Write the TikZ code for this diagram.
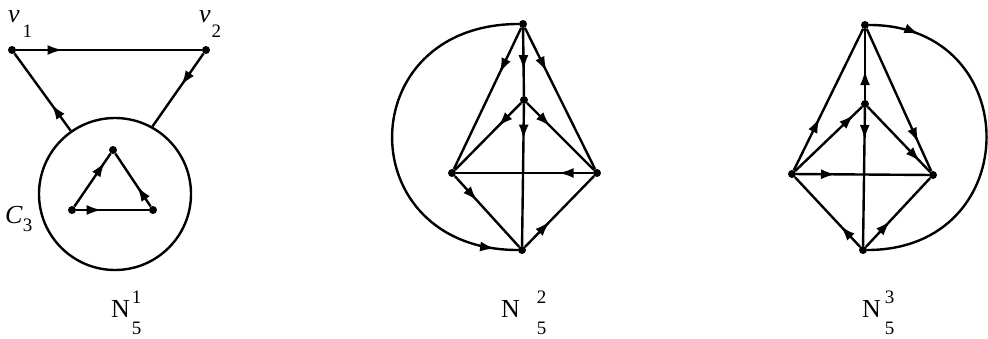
\documentclass[tikz,border=0pt]{standalone}
\usepackage{fontspec}
\setmainfont{Liberation Serif}
\usetikzlibrary{arrows.meta,decorations.markings}
\newcommand{\bigfont}{\fontsize{26}{26}\selectfont}
\newcommand{\smallfont}{\fontsize{19}{19}\selectfont}
\tikzset{
  dot/.style={circle,fill=black,inner sep=0pt,minimum size=8pt},
  edge/.style={line width=2.4pt},
  ar/.style={edge,postaction={decorate},decoration={markings,
      mark=at position #1 with {\arrow{Latex[length=15pt,width=10pt]}}}},
  lbl/.style={anchor=base west,inner sep=0pt}
}
\begin{document}
\begin{tikzpicture}[x=1pt,y=-1pt]
\useasboundingbox (0,0) rectangle (988,338);
% ---------- Figure 1 ----------
\node[dot] (v1) at (12,50) {};
\node[dot] (v2) at (206,50) {};
\node[draw,circle,line width=2.4pt,minimum size=152pt,inner sep=0pt] (C) at (115,194) {};
\node[dot] (ta) at (113,150) {};
\node[dot] (tb) at (72,210) {};
\node[dot] (tc) at (153,210) {};
\draw[ar=0.25] (v1) -- (v2);
\draw[ar=0.34] (C.125) -- (v1);
\draw[ar=0.44] (v2) -- (C.61);
\draw[ar=0.84] (tb) -- (ta);
\draw[ar=0.38] (tc) -- (ta);
\draw[ar=0.35] (tb) -- (tc);
\node[lbl,font=\bigfont] (lv1) at (8,22) {\textit{v}\kern3pt\raisebox{-15pt}{\smallfont 1}};
\node[lbl,font=\bigfont] (lv2) at (199,22) {\textit{v}\kern1pt\raisebox{-15pt}{\smallfont 2}};
\node[lbl,font=\bigfont] (lc3) at (5,223) {\textit{C}\kern0pt\raisebox{-8pt}{\smallfont 3}};
% ---------- Figure 2 ----------
\node[dot] (t2) at (523,24) {};
\node[dot] (m2) at (524,100) {};
\node[dot] (l2) at (452,173) {};
\node[dot] (r2) at (597,173) {};
\node[dot] (b2) at (522,250) {};
\draw[ar=0.32] (t2) -- (l2);
\draw[ar=0.62] (t2) -- (m2);
\draw[ar=0.31] (t2) -- (r2);
\draw[ar=0.35] (m2) -- (l2);
\draw[ar=0.35] (m2) -- (r2);
\draw[ar=0.25] (m2) -- (b2);
\draw[ar=0.25] (r2) -- (l2);
\draw[ar=0.35] (l2) -- (b2);
\draw[ar=0.36] (b2) -- (r2);
\draw[ar=0.94] (t2) .. controls (350,24) and (350,250) .. (b2);
% ---------- Figure 3 ----------
\node[dot] (t3) at (865,25) {};
\node[dot] (m3) at (865,104) {};
\node[dot] (l3) at (792,174) {};
\node[dot] (r3) at (933,175) {};
\node[dot] (b3) at (863,250) {};
\draw[ar=0.37] (l3) -- (t3);
\draw[ar=0.88] (l3) -- (m3);
\draw[ar=0.42] (m3) -- (t3);
\draw[ar=0.23] (m3) -- (b3);
\draw[ar=0.80] (t3) -- (r3);
\draw[ar=0.84] (m3) -- (r3);
\draw[ar=0.30] (l3) -- (r3);
\draw[ar=0.30] (b3) -- (l3);
\draw[ar=0.38] (b3) -- (r3);
\draw[ar=0.14] (t3) .. controls (1026,25) and (1026,250) .. (b3);
% ---------- Labels ----------
\node[lbl,font=\bigfont] (n1) at (111,317) {N\kern2pt\rlap{\raisebox{14pt}{\smallfont 1}}\raisebox{-17pt}{\smallfont 5}};
\node[lbl,font=\bigfont] (n2) at (501,317) {N\kern17pt\rlap{\raisebox{14pt}{\smallfont 2}}\raisebox{-17pt}{\smallfont 5}};
\node[lbl,font=\bigfont] (n3) at (862,317) {N\kern4pt\rlap{\raisebox{14pt}{\smallfont 3}}\raisebox{-17pt}{\smallfont 5}};
\end{tikzpicture}
\end{document}
